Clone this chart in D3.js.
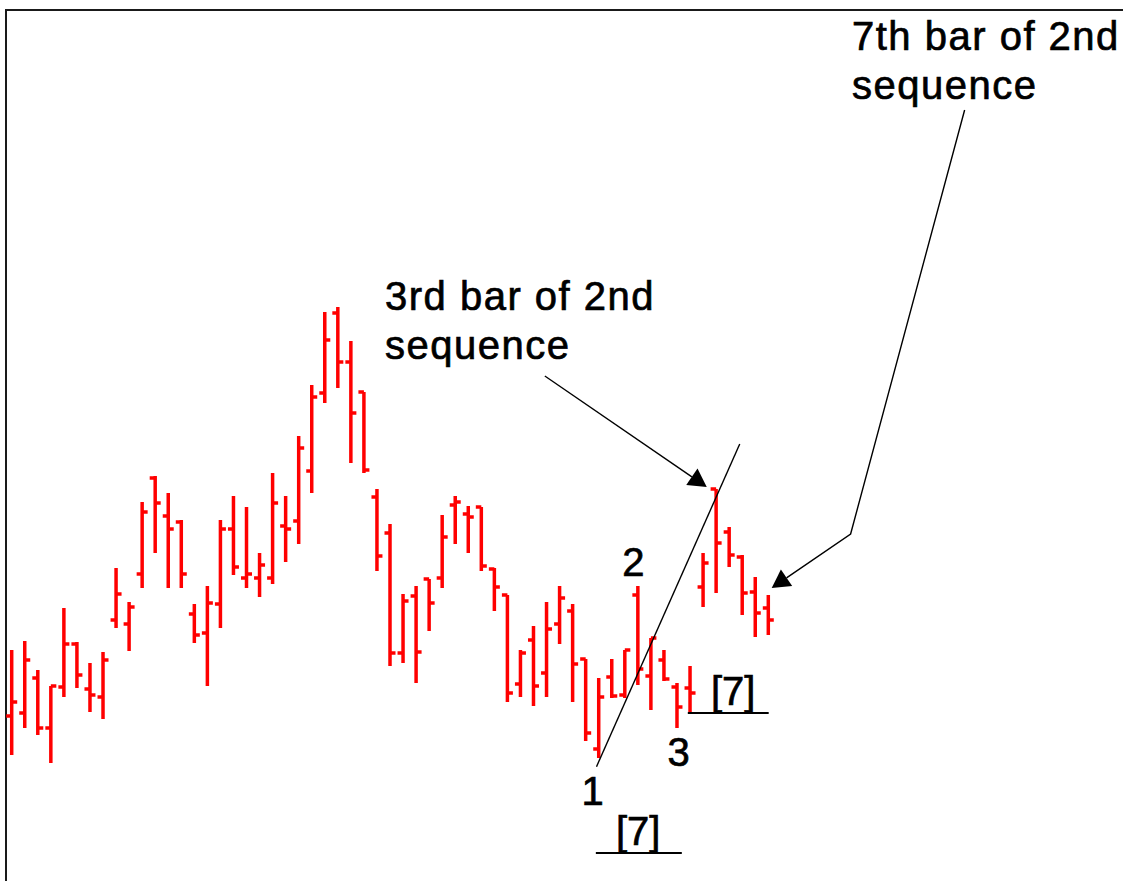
<!DOCTYPE html>
<html>
<head>
<meta charset="utf-8">
<script src="https://cdn.jsdelivr.net/npm/d3@7"></script>
<style>
  body { margin: 0; background: #fff; }
  svg { display: block; font-family: "Liberation Sans", Arial, sans-serif; }
</style>
</head>
<body>
<svg id="chart" width="1123" height="881"></svg>
<script>
// bar number (1..59)
const bars = d3.range(1, 60);
const opens = [12.8, 13.4, 20.4, 10.4, 18.6, 27.2, 18.2, 16.6, 32, 31.2,
  41.2, 60.4, 52.8, 51.6, 33.2, 29.4, 35.2, 50.2, 40.4, 40.4,
  40.4, 50.8, 51.8, 61.8, 77.4, 93.4, 83.6, 77.6, 56.6, 49.4,
  25.4, 36.8, 40.2, 40.4, 55, 53.2, 54.6, 42.2, 37, 19.2,
  28, 21.4, 31.2, 33.8, 24.2, 6.2, 20.6, 17, 37, 20.8,
  24, 18.6, 18.4, 38.6, 58.2, 49.6, 44.6, 37.6, 34.4];
const highs = [26, 27.8, 22, 18.8, 34.4, 27.6, 23.4, 25.6, 42.4, 35.6,
  55.6, 60.8, 57.4, 52, 35.2, 38.8, 52, 56.8, 54.6, 45.4,
  61.4, 56.8, 68.8, 79, 93.6, 94.6, 87.8, 77.6, 58.2, 51.2,
  37.2, 38.8, 40.2, 53, 56.8, 54.8, 54.6, 42.4, 37, 26,
  30.8, 35.6, 38.8, 35.2, 24.2, 20.4, 24.2, 26, 38.8, 28.4,
  26, 19.4, 22.8, 45.4, 58.2, 50.6, 45, 40.6, 37];
const lows = [5, 10.4, 9, 3.4, 16.6, 18.4, 13.6, 12.2, 30.4, 25.8,
  38.4, 45.4, 38.4, 38.4, 27.4, 18.8, 30.4, 41, 38.4, 36.6,
  39.2, 43.6, 47.2, 57.4, 75.4, 78.4, 63.4, 61.4, 41.8, 22.8,
  23.4, 19.4, 29.8, 38.4, 47.2, 45.4, 41.8, 33.8, 15.6, 16.6,
  14.8, 16.6, 27.2, 15.6, 7.8, 4.4, 16.4, 16.4, 19, 14,
  19.8, 10.4, 13.4, 34.6, 37.4, 42.6, 33, 28.6, 29];
const closes = [15.6, 24, 10.4, 18.8, 27.2, 21, 17, 24, 37.2, 34.6,
  53.6, 55.4, 50.2, 41.2, 29, 35.4, 50.2, 42.6, 41.2, 43,
  55.4, 50.2, 66.4, 76.6, 88, 83.6, 73.4, 62, 44.8, 25.4,
  35.8, 25.6, 35.4, 48.6, 55.6, 52.6, 42.8, 38.6, 17.4, 25.4,
  18.8, 30.2, 36.4, 23.2, 9.4, 16.6, 16.8, 26, 22.2, 28.4,
  20.2, 14.6, 17.4, 43.4, 47.4, 45, 37.4, 33.4, 32];

// annotation anchors, in bar / price units
const trendLine = [{ bar: 45.83, value: 2.66 }, { bar: 56.81, value: 67.2 }];
const arrowThird = [{ bar: 41.87, value: 80.8 }, { bar: 54.28, value: 58.6 }];
const arrowSeventh = [{ bar: 74.05, value: 134 }, { bar: 65.31, value: 49.2 }, { bar: 59.26, value: 38.4 }];
const countLabels = [
  { text: "1", bar: 45.54, value: -5 },
  { text: "2", bar: 48.65, value: 40.8 },
  { text: "3", bar: 52.13, value: 2.8 }
];
const sevenMarks = [
  { bar: 49.03, value: -13, from: 45.78, to: 52.37, lineValue: -14.6 },
  { bar: 56.31, value: 15, from: 52.83, to: 59.03, lineValue: 13.4 }
];
const notes = [
  { lines: ["3rd bar of 2nd", "sequence"], x: 385, y: 310 },
  { lines: ["7th bar of 2nd", "sequence"], x: 852, y: 50 }
];

const data = bars.map((b, i) => ({
  bar: b, open: opens[i], high: highs[i], low: lows[i], close: closes[i]
}));

const svg = d3.select("svg#chart");
const width = +svg.attr("width");
const height = +svg.attr("height");

svg.append("rect").attr("width", width).attr("height", height).attr("fill", "#fff");

// frame
svg.append("path")
  .attr("d", `M6,${height} V10 H${width}`)
  .attr("fill", "none")
  .attr("stroke", "#1a1a1a")
  .attr("stroke-width", 2);

const x = d3.scaleLinear([1, 59], [11.7, 768.3]);
const y = d3.scaleLinear([0, 100], [780, 280]);

const red = "#ff0000";
const barG = svg.append("g")
  .selectAll("g")
  .data(data)
  .join("g")
  .attr("stroke", red)
  .attr("stroke-width", 3.5);

barG.append("line")
  .attr("x1", (d) => x(d.bar)).attr("x2", (d) => x(d.bar))
  .attr("y1", (d) => y(d.high)).attr("y2", (d) => y(d.low));
barG.append("line")
  .attr("x1", (d) => x(d.bar) - 5.5).attr("x2", (d) => x(d.bar))
  .attr("y1", (d) => y(d.open)).attr("y2", (d) => y(d.open));
barG.append("line")
  .attr("x1", (d) => x(d.bar)).attr("x2", (d) => x(d.bar) + 5.5)
  .attr("y1", (d) => y(d.close)).attr("y2", (d) => y(d.close));

const ink = svg.append("g").attr("stroke", "#000").attr("fill", "none");

const line = d3.line().x((d) => x(d.bar)).y((d) => y(d.value));

ink.append("path").attr("d", line(trendLine)).attr("stroke-width", 1.4);

function arrow(points) {
  const pts = points.map((p) => [x(p.bar), y(p.value)]);
  const tip = pts[pts.length - 1];
  const prev = pts[pts.length - 2];
  const a = Math.atan2(tip[1] - prev[1], tip[0] - prev[0]);
  const len = 18, half = 10;
  const base = [tip[0] - len * Math.cos(a), tip[1] - len * Math.sin(a)];
  const shaft = pts.slice(0, -1).concat([base]);
  ink.append("path")
    .attr("d", d3.line()(shaft))
    .attr("stroke-width", 1.4);
  svg.append("polygon")
    .attr("points", [
      tip,
      [base[0] + half * Math.sin(a), base[1] - half * Math.cos(a)],
      [base[0] - half * Math.sin(a), base[1] + half * Math.cos(a)]
    ].map((p) => p.join(",")).join(" "))
    .attr("fill", "#000");
}
arrow(arrowThird);
arrow(arrowSeventh);

const text = svg.append("g")
  .attr("fill", "#000")
  .attr("stroke", "#000")
  .attr("stroke-width", 0.7)
  .attr("font-size", 40);

text.selectAll(".count")
  .data(countLabels)
  .join("text")
  .attr("class", "count")
  .attr("text-anchor", "middle")
  .attr("x", (d) => x(d.bar))
  .attr("y", (d) => y(d.value))
  .text((d) => d.text);

text.selectAll(".seven")
  .data(sevenMarks)
  .join("text")
  .attr("class", "seven")
  .attr("text-anchor", "middle")
  .attr("x", (d) => x(d.bar))
  .attr("y", (d) => y(d.value))
  .text("[7]");

ink.selectAll(".under")
  .data(sevenMarks)
  .join("line")
  .attr("class", "under")
  .attr("stroke-width", 2)
  .attr("x1", (d) => x(d.from)).attr("x2", (d) => x(d.to))
  .attr("y1", (d) => y(d.lineValue)).attr("y2", (d) => y(d.lineValue));

notes.forEach((n) => {
  const t = text.append("text")
    .attr("x", n.x)
    .attr("y", n.y)
    .attr("letter-spacing", 1.5);
  n.lines.forEach((s, i) => {
    t.append("tspan").attr("x", n.x).attr("dy", i ? 49 : 0).text(s);
  });
});
</script>
</body>
</html>
